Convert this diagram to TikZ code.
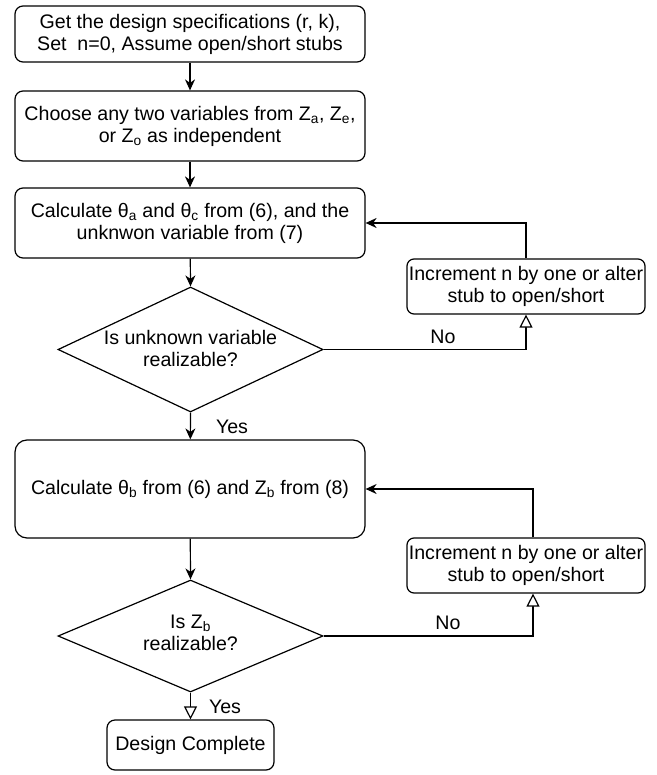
\documentclass[tikz,border=0pt]{standalone}
\usepackage{fontspec}
\setmainfont{Liberation Sans}
\usetikzlibrary{shapes.geometric,arrows.meta}
\begin{document}
\begin{tikzpicture}[x=1pt,y=-1pt,
  font=\fontsize{19.6}{22}\selectfont,
  line width=1.2pt,
  box/.style={draw, rounded corners=8pt, align=center, inner sep=0pt, minimum width=350pt},
  sidebox/.style={draw, rounded corners=7pt, align=center, inner sep=0pt, minimum width=238pt, minimum height=55pt},
  dec/.style={draw, diamond, aspect=1, inner sep=0pt, minimum width=265pt},
  txt/.style={align=center, inner sep=0pt},
  flow/.style={-{Stealth[length=11pt,width=10pt,inset=3.5pt]}},
  openflow/.style={-{Triangle[open,length=13pt,width=13pt,fill=white]}}
]
\useasboundingbox (0,0) rectangle (656,775);

\node[box, minimum height=56pt] (b1) at (190,34) {Get the design specifications (r, k),\\Set\ \ n=0, Assume open/short stubs};
\node[box, minimum height=70pt] (b2) at (190,126) {Choose any two variables from Z\textsubscript{a}, Z\textsubscript{e},\\or Z\textsubscript{o} as independent};
\node[box, minimum height=70pt] (b3) at (190,223) {Calculate θ\textsubscript{a} and θ\textsubscript{c} from (6), and the\\unknwon variable from (7)};
\node[dec, minimum height=125pt] (d1) at (190.5,349.5) {};
\node[txt] (d1t) at (190.5,348.5) {Is unknown variable\\realizable?};
\node[box, minimum height=98pt, rounded corners=12pt] (b4) at (190,489) {Calculate θ\textsubscript{b} from (6) and Z\textsubscript{b} from (8)};
\node[dec, minimum height=112pt] (d2) at (190.5,636) {};
\node[txt] (d2t) at (190.5,633) {Is Z\textsubscript{b}\\realizable?};
\node[sidebox] (s1) at (526,286.5) {Increment n by one or alter\\stub to open/short};
\node[sidebox] (s2) at (526,565.5) {Increment n by one or alter\\stub to open/short};
\node[box, minimum width=167pt, minimum height=50pt] (b5) at (190.5,745) {Design Complete};

\node[txt] (no1) at (443,337) {No};
\node[txt] (no2) at (448,623) {No};
\node[txt] (yes1) at (232,427) {Yes};
\node[txt] (yes2) at (225,707) {Yes};

\draw[flow] (b1) -- (b2);
\draw[flow] (b2) -- (b3);
\draw[flow] (b3) -- (d1.north);
\draw[flow] (d1.south) -- (b4);
\draw[flow] (b4) -- (d2.north);
\draw[openflow] (d2.south) -- (b5);
\draw[openflow] (d1.east) -| (s1.south);
\draw[flow] (s1.north) |- (b3.east);
\draw[openflow] (d2.east) -| ([xshift=7pt]s2.south);
\draw[flow] ([xshift=7pt]s2.north) |- (b4.east);
\end{tikzpicture}
\end{document}
